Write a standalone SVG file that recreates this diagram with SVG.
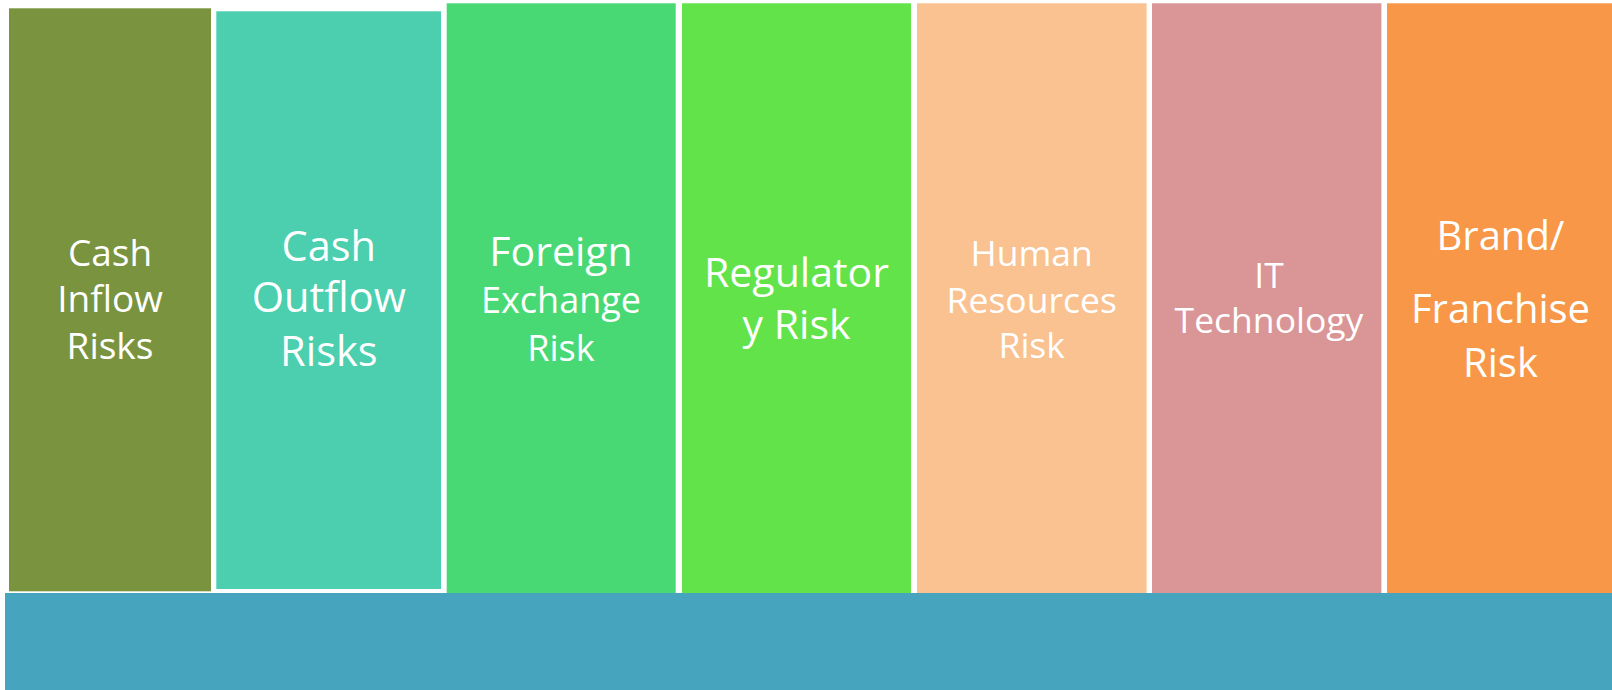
<svg xmlns="http://www.w3.org/2000/svg" width="1612" height="690" viewBox="0 0 1612 690">
<style>
text{font-family:"Open Sans","Noto Sans","Liberation Sans",sans-serif;fill:#ffffff;text-anchor:middle}
</style>
<rect x="0" y="0" width="1612" height="690" fill="#ffffff"/>
<g id="col-cash-inflow">
<rect x="9" y="8.3" width="202" height="583" fill="#79933E"/>
<text font-size="37"><tspan x="110" y="266">Cash</tspan><tspan x="110" y="311.7">Inflow</tspan><tspan x="110" y="359">Risks</tspan></text>
</g>
<g id="col-cash-outflow">
<rect x="216.3" y="11.3" width="224.7" height="577.7" fill="#4BCFAE"/>
<text font-size="41.5"><tspan x="328.8" y="260.7">Cash</tspan><tspan x="328.8" y="312.3">Outflow</tspan><tspan x="328.8" y="365.7">Risks</tspan></text>
</g>
<g id="col-foreign-exchange">
<rect x="446.7" y="3.3" width="229" height="590" fill="#48D975"/>
<text><tspan x="561" y="266" font-size="41">Foreign</tspan><tspan x="561" y="313.3" font-size="36">Exchange</tspan><tspan x="561" y="361" font-size="36">Risk</tspan></text>
</g>
<g id="col-regulatory">
<rect x="682" y="3.3" width="229" height="590" fill="#62E349"/>
<text font-size="41"><tspan x="796.5" y="287.3">Regulator</tspan><tspan x="796.5" y="339.3">y Risk</tspan></text>
</g>
<g id="col-human-resources">
<rect x="917" y="3.3" width="229.6" height="590" fill="#FAC191"/>
<text font-size="35.5"><tspan x="1031.7" y="265.7">Human</tspan><tspan x="1031.7" y="312.7">Resources</tspan><tspan x="1031.7" y="358.3">Risk</tspan></text>
</g>
<g id="col-it-technology">
<rect x="1152" y="3.3" width="229.4" height="590" fill="#DA9596"/>
<text font-size="35.5"><tspan x="1269" y="288.3">IT</tspan><tspan x="1269" y="333.3">Technology</tspan></text>
</g>
<g id="col-brand-franchise">
<rect x="1387" y="3.3" width="225" height="590" fill="#F79747"/>
<text font-size="40"><tspan x="1500.5" y="250">Brand/</tspan><tspan x="1500.5" y="322.7">Franchise</tspan><tspan x="1500.5" y="376.7">Risk</tspan></text>
</g>
<g id="base-band">
<rect x="5" y="593" width="1607" height="97" fill="#47A4BE"/>
</g>
<g id="connectors"/>
</svg>
